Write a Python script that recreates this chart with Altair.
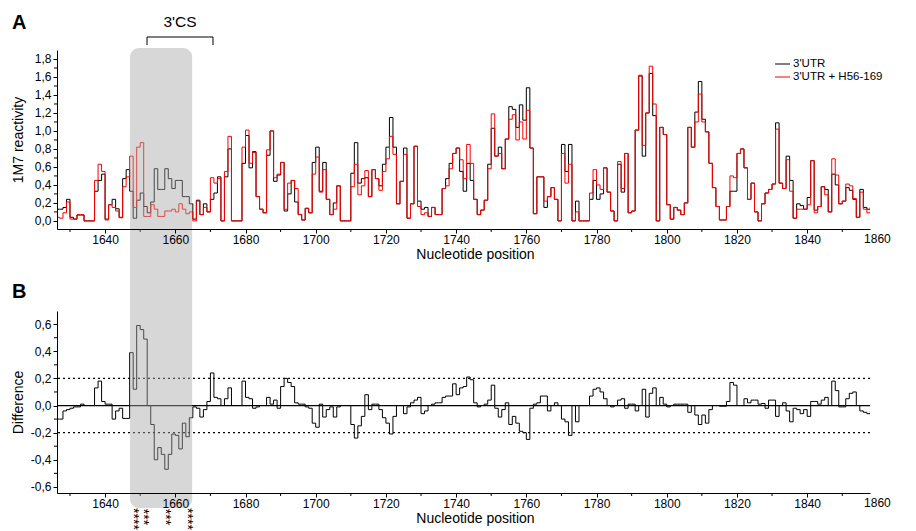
import altair as alt
import pandas as pd

START = 1626

black = [
0.13,0.13,0.15,0.24,0.04,0.02,0.065,0.065,0,0,0,0.33,0.45,0.52,0.02,0.18,0.24,0.135,0.04,0.47,
0.57,0.33,0.03,0.23,0.31,0.16,0.09,0.21,0.58,0.35,0.35,0.58,0.47,0.36,0.45,0.45,0.27,0.27,0.19,0.02,
0.23,0.07,0.19,0.1,0.24,0.31,0.49,0,0.49,0.80,0,0,0,0.64,0.95,0.59,0.77,0.27,0.13,0.09,
0.73,1.0,0.44,0.51,0.65,0.11,0.30,0.45,0.21,0.07,0.01,0.14,0.09,0.65,0.82,0.33,0.65,0.24,0.07,0.2,
0.39,0,0,0,0.53,0.87,0.42,0.47,0.48,0.27,0.57,0.47,0.39,0.63,0.82,1.15,0.82,0.19,0.44,0.81,
0.03,0.19,0.83,0.22,0.13,0.15,0.05,0.15,0.07,0.07,0.36,0.47,0.64,0.75,0.81,0.55,0.33,0.64,0.45,0.24,
0.07,0.12,0.23,0.63,1.03,0.72,0.82,0.58,0.91,1.27,1.24,1.04,1.29,1.12,1.48,0.81,0.08,0.49,0.49,0.15,
0.27,0.37,0.24,0,0.85,0.55,0.85,0,0.22,0,0,0,0.24,0.45,0.24,0.30,0.59,0.32,0.11,0,
0.63,0.32,0.75,0.09,0.11,1.01,1.61,0.72,1.2,1.64,1.17,0,1.04,0.96,0.18,0.02,0.15,0.12,0.07,0.20,
1.04,0.82,1.21,1.55,1.13,0.99,0.64,0.37,0.16,0.01,0.01,0.16,0.33,0.33,0.75,0.80,0.59,0.24,0.42,0.10,
0,0.19,0.31,0.35,0.41,1.09,0.42,0.36,0.72,0.45,0.03,0.19,0.17,0.13,0.26,0.67,0.12,0.16,0.38,0.35,
0.10,0.52,0.40,0.19,0.22,0.37,0.34,0.24,0.04,0.35,0.15,0.13,0.15]

red = [
0.04,0.03,0.09,0.21,0.02,0.02,0.07,0.07,0,0,0,0.45,0.63,0.55,0.01,0.18,0.15,0.11,0.035,0.38,
0.49,0.72,0.15,0.82,0.87,0.05,0.05,0.18,0.13,0.05,0.05,0.11,0.11,0.13,0.10,0.19,0.13,0.08,0.10,0.0,
0.22,0.07,0.15,0.1,0.48,0.42,0.47,0,0.55,0.94,0,0,0,0.82,1.01,0.64,0.76,0.27,0.13,0.09,
0.79,1.0,0.48,0.52,0.65,0.13,0.42,0.45,0.36,0.07,0.01,0.14,0.09,0.52,0.71,0.32,0.57,0.24,0.07,0.13,
0.39,0,0,0,0.38,0.63,0.29,0.39,0.56,0.27,0.57,0.47,0.34,0.55,0.69,0.94,0.74,0.19,0.44,0.74,
0.03,0.19,0.83,0.16,0.07,0.09,0.05,0.15,0.07,0.07,0.36,0.39,0.58,0.75,0.81,0.68,0.47,0.85,0.64,0.24,
0.07,0.12,0.23,0.58,1.19,0.72,0.75,0.58,0.91,1.13,1.18,0.90,1.10,0.91,1.23,0.81,0.08,0.49,0.49,0.22,
0.27,0.37,0.24,0,0.75,0.42,0.63,0,0.10,0,0,0,0.31,0.57,0.40,0.35,0.59,0.32,0.11,0,
0.66,0.36,0.75,0.09,0.11,1.01,1.62,0.84,1.2,1.72,1.30,0,1.04,0.96,0.18,0.02,0.15,0.12,0.07,0.20,
1.04,0.82,1.10,1.41,1.10,0.99,0.64,0.37,0.16,0.01,0.01,0.16,0.50,0.48,0.75,0.80,0.59,0.24,0.42,0.10,
0,0.19,0.31,0.35,0.41,1.02,0.42,0.36,0.68,0.33,0.03,0.13,0.13,0.13,0.18,0.67,0.09,0.16,0.38,0.29,
0.10,0.69,0.51,0.19,0.22,0.41,0.39,0.25,0.04,0.32,0.13,0.09,0.15]

diff = [
-0.10,-0.10,-0.04,-0.03,-0.02,-0.01,-0.01,0.01,0,0,0,0.13,0.18,0.03,0.01,0.01,-0.10,-0.04,-0.02,-0.095,
-0.095,0.39,0.12,0.59,0.56,0.49,0.0,-0.14,-0.40,-0.31,-0.36,-0.47,-0.36,-0.21,-0.22,-0.32,-0.13,-0.23,-0.09,-0.01,
-0.02,-0.085,-0.03,0.03,0.24,0.06,0.05,0,0.05,0.13,0,0,0,0.18,0.06,0.05,-0.02,-0.01,0,0,
0.06,0.01,0.04,-0.02,0.14,0.20,0.17,0.14,0.02,0.01,0.01,-0.01,-0.02,-0.13,-0.16,0.01,-0.085,-0.03,-0.01,-0.085,
-0.01,0,0,0,-0.14,-0.24,-0.15,-0.08,0.08,-0.03,0.01,0.01,-0.03,-0.09,-0.13,-0.21,-0.08,0,0.0,-0.06,
-0.01,0.02,0.04,0.06,-0.06,-0.04,0.0,0.01,0.02,0.02,0.06,0.07,0.07,0.16,0.08,0.13,0.14,0.21,0.19,0.02,
-0.01,0,0.01,0.04,0.15,-0.02,-0.085,-0.03,0.02,-0.14,-0.08,-0.13,-0.19,-0.2,-0.25,-0.02,0.01,0.02,0.07,0.07,
-0.04,0,0.02,0,-0.1,-0.12,-0.22,0,-0.12,0,0,0,0.07,0.12,0.13,0.10,0.05,0.0,-0.01,0,
0.04,0.05,-0.02,0.01,0.01,-0.04,0,0.12,-0.085,0.09,0.13,0,0.06,0.01,-0.01,0,0.01,0.01,0.01,0.01,
-0.05,0,-0.07,-0.14,-0.07,-0.13,-0.03,0,0,-0.005,-0.005,0.03,0.17,0.15,0,0,0.05,0.02,0.04,0.04,
0.01,0.015,-0.02,0.04,0.04,-0.08,0,0.02,-0.04,-0.12,-0.02,-0.03,-0.06,-0.03,-0.08,0.03,0.03,0.01,0.04,0.06,
0,0.18,0.11,-0.01,-0.01,0.05,0.09,0.10,0,-0.04,-0.05,-0.06,-0.04]

series_names = ["3'UTR", "3'UTR + H56-169"]
series_colors = ["#000000", "#ff0000"]
y_major_a = [0.0, 0.2, 0.4, 0.6, 0.8, 1.0, 1.2, 1.4, 1.6, 1.8]
y_minor_a = [0.1, 0.3, 0.5, 0.7, 0.9, 1.1, 1.3, 1.5, 1.7]
y_major_b = [-0.6, -0.4, -0.2, 0.0, 0.2, 0.4, 0.6]
y_minor_b = [-0.5, -0.3, -0.1, 0.1, 0.3, 0.5]
x_major = list(range(1640, 1841, 20))
x_minor = list(range(1630, 1851, 20))
x_edge_label = [1860]
shade = [1647.1, 1664.8]
asterisks = ["****", "***", "***", "****"]

FONT = "Liberation Sans"
W = 813
HA = 179
HB = 182
GAP = 82

def step_df(vals):
    xs = list(range(START, START + len(vals))) + [START + len(vals)]
    ys = list(vals) + [vals[-1]]
    return pd.DataFrame({"pos": xs, "val": ys})

xscale = alt.Scale(domain=[1626.3, 1857.9], nice=False, zero=False)

AX = alt.Axis(values=x_major, format="d", labelOverlap=False,
              title="Nucleotide position", titleFontSize=14, titleFontWeight="normal",
              titleFont=FONT, labelFont=FONT, labelFontSize=12, tickSize=4,
              labelPadding=1, titleX=418, titleY=18, titleBaseline="top",
              domainColor="black", tickColor="black", labelColor="black",
              titleColor="black", grid=False, zindex=1, labelFlush=False)

ylabel = "(datum.value < -0.001 ? '-' : '') + replace(format(abs(datum.value), '.1f'), '.', ',')"

def yaxis(title, vals, h):
    return alt.Axis(values=vals, labelExpr=ylabel, labelOverlap=False, title=title,
                    titleFontSize=14, titleFontWeight="normal", titleFont=FONT,
                    labelFont=FONT, labelFontSize=12,
                    tickSize=4, labelPadding=2, titleX=-39, titleY=h / 2, titleBaseline="middle",
                    titleAngle=-90, titleAlign="center", labelFlush=False,
                    domainColor="black", tickColor="black", labelColor="black",
                    titleColor="black", grid=False, zindex=1)

AYA = yaxis("1M7 reactivity", y_major_a, HA)
AYB = yaxis("Difference", y_major_b, HB)

def extra_axis_bits(h, yscale, yminor, yax):
    xm = alt.Chart(pd.DataFrame({"t": x_minor})).mark_rule(color="black", strokeWidth=1).encode(
        x=alt.X("t:Q", scale=xscale, axis=AX), y=alt.value(h), y2=alt.value(h + 3))
    ym = alt.Chart(pd.DataFrame({"t": yminor})).mark_rule(color="black", strokeWidth=1).encode(
        y=alt.Y("t:Q", scale=yscale, axis=yax), x=alt.value(-3), x2=alt.value(0))
    el = alt.Chart(pd.DataFrame({"t": x_edge_label})).mark_text(
        font=FONT, fontSize=12, align="center", baseline="top", color="black").encode(
        x=alt.X("t:Q", scale=xscale, axis=AX), y=alt.value(h + 5),
        text=alt.Text("t:Q", format="d"))
    return [xm, ym, el]

# ---------- panel A ----------
ya = alt.Scale(domain=[-0.09, 1.9], nice=False, zero=False)
dk = step_df(black)
dr = step_df(red)

line_k = alt.Chart(dk).mark_line(interpolate="step-after", color=series_colors[0],
                                  strokeWidth=1, clip=True).encode(
    x=alt.X("pos:Q", scale=xscale, axis=AX),
    y=alt.Y("val:Q", scale=ya, axis=AYA))
line_r = alt.Chart(dr).mark_line(interpolate="step-after", color=series_colors[1],
                                  strokeWidth=1, clip=True).encode(
    x=alt.X("pos:Q", scale=xscale, axis=AX), y=alt.Y("val:Q", scale=ya, axis=AYA))

shade_df = pd.DataFrame({"x1": [shade[0]], "x2": [shade[1]]})
rect_a = alt.Chart(shade_df).mark_rect(color="#a6a6a6", opacity=0.45,
                                       cornerRadiusTopLeft=9, cornerRadiusTopRight=9).encode(
    x=alt.X("x1:Q", scale=xscale, axis=AX), x2="x2:Q",
    y=alt.value(-2), y2=alt.value(HA + GAP))

anchor = alt.Chart(shade_df).mark_rect(opacity=0).encode(
    x=alt.value(-49), x2=alt.value(-48), y=alt.value(-42), y2=alt.value(-41))

letter_a = alt.Chart(shade_df).mark_text(text="A", font=FONT, fontSize=20, fontWeight="bold",
                                         align="left", baseline="alphabetic", color="black").encode(
    x=alt.value(-45), y=alt.value(-21))

cs_text = alt.Chart(shade_df).mark_text(text="3'CS", font=FONT, fontSize=15.5, align="center",
                                        baseline="middle", color="black").encode(
    x=alt.value(123), y=alt.value(-28))
br_h = alt.Chart(shade_df).mark_rule(color="black", strokeWidth=1).encode(
    x=alt.value(90), x2=alt.value(156), y=alt.value(-13))
br_l = alt.Chart(shade_df).mark_rule(color="black", strokeWidth=1).encode(
    x=alt.value(90), y=alt.value(-13), y2=alt.value(-5))
br_r = alt.Chart(shade_df).mark_rule(color="black", strokeWidth=1).encode(
    x=alt.value(156), y=alt.value(-13), y2=alt.value(-5))

leg_df = pd.DataFrame({"name": series_names, "c": series_colors, "yy": [14, 27]})
leg_lines = alt.Chart(leg_df).mark_rule(strokeWidth=1).encode(
    x=alt.value(718), x2=alt.value(733), y=alt.Y("yy:Q", scale=None),
    color=alt.Color("c:N", scale=None))
leg_text = alt.Chart(leg_df).mark_text(font=FONT, fontSize=11.5, align="left", baseline="middle",
                                       color="black").encode(
    x=alt.value(736), y=alt.Y("yy:Q", scale=None), text="name:N")

panel_a = alt.layer(line_k, line_r, *extra_axis_bits(HA, ya, y_minor_a, AYA), rect_a, anchor,
                    letter_a, cs_text, br_h, br_l, br_r, leg_lines, leg_text
                    ).properties(width=W, height=HA)

# ---------- panel B ----------
yb = alt.Scale(domain=[-0.645, 0.697], nice=False, zero=False)
dd = step_df(diff)
line_d = alt.Chart(dd).mark_line(interpolate="step-after", color="black",
                                  strokeWidth=1, clip=True).encode(
    x=alt.X("pos:Q", scale=xscale, axis=AX),
    y=alt.Y("val:Q", scale=yb, axis=AYB))

ref_df = pd.DataFrame({"y": [0.2, -0.2]})
dotted = alt.Chart(ref_df).mark_rule(color="black", strokeWidth=1.2, strokeDash=[2, 3]).encode(
    y=alt.Y("y:Q", scale=yb, axis=AYB))
zero_df = pd.DataFrame({"y": [0.0]})
zero_line = alt.Chart(zero_df).mark_rule(color="black", strokeWidth=1.2).encode(
    y=alt.Y("y:Q", scale=yb, axis=AYB))

rect_b = alt.Chart(shade_df).mark_rect(color="#a6a6a6", opacity=0.45,
                                       cornerRadiusBottomLeft=9, cornerRadiusBottomRight=9).encode(
    x=alt.X("x1:Q", scale=xscale, axis=AX), x2="x2:Q",
    y=alt.value(0), y2=alt.value(HB + 15))

letter_b = alt.Chart(shade_df).mark_text(text="B", font=FONT, fontSize=20, fontWeight="bold",
                                         align="left", baseline="alphabetic", color="black").encode(
    x=alt.value(-45), y=alt.value(-13))

ast_df = pd.DataFrame({"t": asterisks,
                       "px": [76, 86, 108, 130], "py": [208, 206, 206, 208]})
asts = alt.Chart(ast_df).mark_text(font=FONT, fontSize=14, angle=90, align="center",
                                   baseline="middle", color="black").encode(
    x=alt.X("px:Q", scale=None), y=alt.Y("py:Q", scale=None), text="t:N")

panel_b = alt.layer(line_d, *extra_axis_bits(HB, yb, y_minor_b, AYB), dotted, zero_line, rect_b,
                    letter_b, asts).properties(width=W, height=HB)

chart = alt.vconcat(panel_a, panel_b, spacing=GAP, bounds="flush").properties(
    padding={"left": 0, "top": 0, "right": 5, "bottom": 0}
).configure(font=FONT).configure_view(stroke=None)

chart.save("out.html", embed_options={"renderer": "svg", "actions": False})
